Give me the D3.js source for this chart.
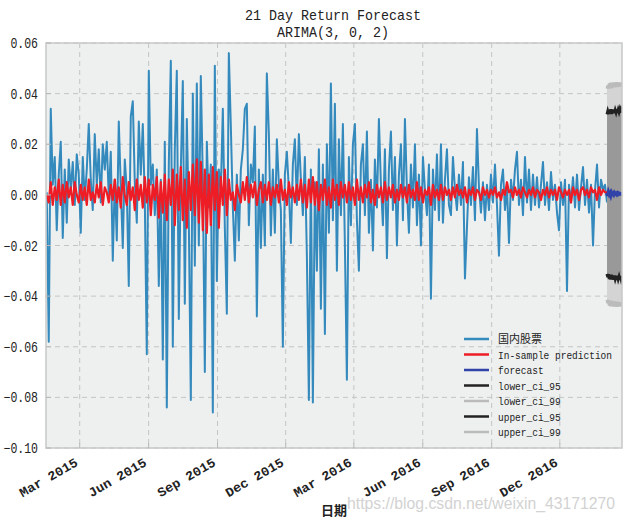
<!DOCTYPE html>
<html><head><meta charset="utf-8">
<script src="https://cdn.jsdelivr.net/npm/d3@7"></script>
<style>body{margin:0;background:#fff}svg{display:block}</style>
</head><body><svg id="c" width="626" height="523"></svg>
<script>
// ---------------- data ----------------
const titleLines = ["21 Day Return Forecast", "ARIMA(3, 0, 2)"];
const xLabel = "日期";
const yTicks = [0.06, 0.04, 0.02, 0.00, -0.02, -0.04, -0.06, -0.08, -0.10];
const tickLabels = ["Mar 2015","Jun 2015","Sep 2015","Dec 2015","Mar 2016","Jun 2016","Sep 2016","Dec 2016"];
const tickDates = ["2015-03-01","2015-06-01","2015-09-01","2015-12-01","2016-03-01","2016-06-01","2016-09-01","2016-12-01"];
const dataStart = "2015-01-16", dataEnd = "2017-02-02";
const forecastStart = "2017-02-02";
const legendLabels = ["国内股票","In-sample prediction","forecast","lower_ci_95","lower_ci_99","upper_ci_95","upper_ci_99"];

const actual = [
0.001,-0.058,0.034,0.004,0.015,-0.014,0.008,0.021,-0.017,0.010,
-0.011,0.014,0.002,0.013,-0.004,0.016,0.008,-0.015,0.015,-0.002,
0.010,0.028,0.006,-0.006,0.024,0.004,0.018,-0.003,0.020,0.010,
0.021,-0.001,0.017,-0.026,0.006,-0.018,0.029,0.003,-0.021,0.014,
0.002,-0.036,0.031,0.037,0.005,-0.011,0.029,0.008,0.028,-0.002,
-0.063,0.049,0.004,0.012,-0.008,0.010,-0.036,0.006,-0.065,0.021,
-0.084,0.012,0.053,-0.060,0.018,0.049,-0.049,0.010,0.045,-0.043,
0.030,-0.010,-0.081,0.040,-0.028,0.044,-0.020,0.047,0.006,-0.070,
0.021,-0.005,0.012,-0.086,0.051,-0.034,0.010,0.002,0.034,-0.013,
-0.047,0.056,0.027,-0.005,-0.026,0.008,-0.018,0.010,0.018,0.034,
0.036,-0.012,0.012,0.005,0.027,-0.048,0.010,-0.021,0.008,-0.020,
0.048,0.024,-0.016,0.010,-0.015,0.022,0.004,-0.006,-0.060,0.008,
0.017,0.002,-0.019,0.012,0.022,-0.004,0.024,0.006,-0.008,0.015,
-0.024,-0.081,0.010,-0.082,0.005,-0.030,0.018,-0.045,0.012,-0.055,
0.020,-0.015,0.044,-0.010,0.036,-0.030,0.022,-0.008,0.028,-0.020,
-0.073,0.015,-0.012,0.020,0.028,-0.010,-0.030,0.012,0.020,-0.008,
0.025,-0.015,0.006,-0.022,0.014,-0.005,0.030,0.004,-0.012,0.018,
-0.025,0.010,0.025,-0.006,0.015,-0.020,0.008,0.020,-0.010,0.030,
0.002,-0.015,0.012,-0.005,0.020,-0.012,0.008,-0.020,0.015,0.002,
-0.008,0.012,-0.041,0.010,-0.006,0.016,-0.010,0.020,-0.011,0.006,
0.018,-0.004,-0.008,0.015,0.002,-0.006,0.008,-0.004,0.013,-0.033,
-0.013,0.007,-0.004,0.011,-0.010,0.026,0.003,-0.007,0.005,-0.010,
0.004,-0.006,0.008,-0.003,0.012,-0.004,-0.024,0.004,0.010,-0.006,
0.003,-0.019,0.006,-0.002,0.010,0.017,-0.004,0.006,-0.008,0.015,
-0.003,0.010,-0.006,0.008,-0.004,0.007,-0.005,0.004,0.013,-0.004,
0.005,-0.006,0.009,-0.002,0.004,-0.007,-0.014,0.005,-0.004,0.006,
-0.038,0.004,-0.003,0.007,-0.005,0.008,-0.006,0.003,0.011,-0.004,
0.006,-0.007,0.004,-0.020,0.002,0.012,-0.005,0.006,0.002,0.004,
-0.003];

const insample = [
0.000,-0.003,0.005,-0.004,0.003,-0.002,0.006,-0.004,0.004,-0.003,
0.005,-0.001,0.003,-0.004,0.005,0.000,-0.003,0.004,-0.002,0.003,
-0.004,0.006,-0.002,0.001,-0.003,0.004,-0.001,0.005,-0.004,0.003,
0.001,-0.003,0.004,-0.002,0.006,-0.003,0.003,-0.005,0.007,0.000,
-0.004,0.005,-0.002,0.003,-0.006,0.006,-0.002,0.004,-0.005,0.007,
-0.003,0.006,-0.008,0.004,-0.002,0.007,-0.009,0.005,-0.007,0.008,
-0.010,0.006,-0.004,0.010,-0.012,0.008,-0.006,0.011,-0.010,0.006,
-0.013,0.009,-0.006,0.012,-0.008,0.014,-0.011,0.013,-0.014,0.010,
-0.015,0.008,-0.012,0.011,-0.006,0.009,-0.013,0.007,-0.004,0.010,
-0.008,0.006,-0.002,0.001,-0.006,0.004,0.000,-0.003,0.005,-0.002,
0.007,-0.003,0.004,-0.001,0.005,-0.004,0.002,0.005,-0.003,0.004,
-0.002,0.005,-0.004,0.003,-0.001,0.004,-0.003,0.006,-0.002,0.002,
-0.004,0.005,-0.001,0.003,-0.003,0.004,-0.002,0.006,-0.003,0.004,
-0.005,0.006,-0.003,0.007,-0.004,0.005,-0.006,0.004,-0.002,0.006,
-0.004,0.003,-0.005,0.006,-0.002,0.004,-0.004,0.005,-0.001,0.004,
-0.003,0.005,-0.002,0.003,-0.004,0.006,-0.002,0.003,-0.003,0.004,
-0.001,0.005,-0.003,0.002,-0.004,0.004,-0.001,0.003,-0.003,0.005,
-0.002,0.003,-0.001,0.004,-0.003,0.002,-0.002,0.004,-0.001,0.003,
-0.003,0.004,-0.001,0.002,-0.002,0.005,-0.002,0.003,-0.003,0.002,
0.000,0.003,-0.004,0.004,-0.001,0.002,-0.002,0.004,-0.002,0.003,
0.000,0.002,-0.002,0.003,-0.001,0.004,0.000,0.002,-0.001,0.003,
-0.003,0.002,0.000,0.003,-0.002,0.002,0.001,-0.002,0.003,0.000,
0.002,-0.001,0.002,0.000,0.003,-0.001,0.001,-0.002,0.002,0.000,
0.005,0.001,0.002,-0.001,0.003,0.000,0.002,-0.001,0.003,0.001,
-0.001,0.002,0.000,0.003,-0.001,0.002,0.001,-0.002,0.002,0.000,
0.003,-0.001,0.002,0.000,0.002,-0.002,0.003,0.001,-0.001,0.002,
0.000,0.002,-0.003,0.003,0.000,0.002,-0.002,0.002,0.003,0.000,
0.002,-0.001,0.003,0.001,0.002,-0.002,0.003,0.000,0.002,0.001,
0.001];

const forecast = [0.0008,-0.0004,0.0010,0.0002,0.0007,-0.0002,0.0009,0.0003,0.0006,0.0001,0.0008,0.0004,0.0006,0.0002,0.0007,0.0003,0.0006,0.0004,0.0005,0.0003,0.0005];
const upper95 = [0.0318,0.0330,0.0320,0.0335,0.0322,0.0338,0.0320,0.0336,0.0324,0.0337,0.0323,0.0335,0.0326,0.0338,0.0324,0.0336,0.0327,0.0337,0.0325,0.0336,0.0328];
const lower95 = [-0.0312,-0.0325,-0.0314,-0.0332,-0.0318,-0.0334,-0.0316,-0.0333,-0.0320,-0.0335,-0.0319,-0.0332,-0.0322,-0.0336,-0.0320,-0.0333,-0.0323,-0.0335,-0.0321,-0.0334,-0.0324];
const upper99 = [0.0420,0.0432,0.0420,0.0440,0.0424,0.0443,0.0421,0.0441,0.0427,0.0444,0.0425,0.0440,0.0429,0.0445,0.0426,0.0442,0.0430,0.0444,0.0428,0.0443,0.0431];
const lower99 = [-0.0415,-0.0428,-0.0416,-0.0437,-0.0420,-0.0440,-0.0418,-0.0438,-0.0423,-0.0441,-0.0421,-0.0437,-0.0425,-0.0442,-0.0422,-0.0439,-0.0426,-0.0441,-0.0424,-0.0440,-0.0427];

// ---------------- chart ----------------
const W = 626, H = 523, m = {l:46, r:4, t:43, b:75};
const MONO = '"Liberation Mono","Noto Sans CJK SC",monospace';
const CJK = '"Noto Sans CJK SC",sans-serif';
const parse = d3.timeParse("%Y-%m-%d");
const svg = d3.select("#c");

const x = d3.scaleTime().domain([parse("2015-01-15"), parse("2017-02-22")]).range([m.l, W - m.r]);
const y = d3.scaleLinear().domain([-0.10, 0.06]).range([H - m.b, m.t]);

const t0 = parse(dataStart), t1 = parse(dataEnd);
const dates = actual.map((_, i) => new Date(+t0 + (t1 - t0) * i / (actual.length - 1)));
const fc0 = parse(forecastStart);
const fDates = forecast.map((_, i) => d3.timeDay.offset(fc0, i));
const tDates = tickDates.map(parse);

function fit(sel, per) { sel.attr("textLength", function(){ return this.textContent.length * per; }).attr("lengthAdjust","spacingAndGlyphs"); }

// background
svg.append("rect").attr("x", m.l).attr("y", m.t).attr("width", W - m.l - m.r).attr("height", H - m.t - m.b).attr("fill", "#eef0f0");

// grid
const grid = svg.append("g").attr("stroke", "#c4c4c4").attr("stroke-width", 1).attr("stroke-dasharray", "5,4");
grid.selectAll(".gy").data(yTicks).join("line")
  .attr("x1", m.l).attr("x2", W - m.r).attr("y1", d => y(d)).attr("y2", d => y(d));
grid.selectAll(".gx").data(tDates).join("line")
  .attr("y1", m.t).attr("y2", H - m.b).attr("x1", d => x(d)).attr("x2", d => x(d));

// clip
svg.append("clipPath").attr("id", "clip").append("rect").attr("x", m.l).attr("y", m.t).attr("width", W - m.l - m.r).attr("height", H - m.t - m.b);
const plot = svg.append("g").attr("clip-path", "url(#clip)");

const line = (xs, ys) => d3.line().x((d, i) => x(xs[i])).y(d => y(d))(ys);

plot.append("path").attr("d", line(dates, actual)).attr("fill", "none").attr("stroke", "#348ABD").attr("stroke-width", 2).attr("stroke-linejoin", "round");
plot.append("path").attr("d", line(dates, insample)).attr("fill", "none").attr("stroke", "#ee1c24").attr("stroke-width", 2.2).attr("stroke-linejoin", "round");

// forecast bands
const area = (lo, hi) => d3.area().x((d, i) => x(fDates[i])).y0((d, i) => y(lo[i])).y1((d, i) => y(hi[i]))(forecast);
plot.append("path").attr("d", area(lower99, upper99)).attr("fill", "#d4d4d4");
plot.append("path").attr("d", area(lower95, upper95)).attr("fill", "#999999");
plot.append("path").attr("d", line(fDates, forecast)).attr("fill", "none").attr("stroke", "#3142a8").attr("stroke-width", 3.5);
[[lower95, "#222"], [lower99, "#bbbbbb"], [upper95, "#222"], [upper99, "#bbbbbb"]].forEach(([arr, c]) => {
  plot.append("path").attr("d", line(fDates, arr)).attr("fill", "none").attr("stroke", c).attr("stroke-width", 3);
});

// border
svg.append("rect").attr("x", m.l).attr("y", m.t).attr("width", W - m.l - m.r).attr("height", H - m.t - m.b)
  .attr("fill", "none").attr("stroke", "#c8c8c8").attr("stroke-width", 1.5);

// ticks
const tk = svg.append("g").attr("stroke", "#b8b8b8").attr("stroke-width", 1);
tk.selectAll(".ty").data(yTicks).join("line").attr("x1", m.l).attr("x2", m.l + 5).attr("y1", d => y(d)).attr("y2", d => y(d));
tk.selectAll(".tx").data(tDates).join("line").attr("y1", H - m.b).attr("y2", H - m.b - 5).attr("x1", d => x(d)).attr("x2", d => x(d));

// y tick labels
const fmt = d3.format(".2f");
svg.append("g").selectAll("text").data(yTicks).join("text")
  .attr("x", 38).attr("y", d => y(d) + 5).attr("text-anchor", "end")
  .attr("font-family", MONO).attr("font-size", 14).attr("fill", "#222")
  .text(d => fmt(d)).call(fit, 6.9);

// x tick labels
svg.append("g").selectAll("text").data(tDates).join("text")
  .attr("transform", d => `translate(${x(d) - 1},${H - m.b + 17}) rotate(-30)`)
  .attr("text-anchor", "end").attr("font-family", MONO).attr("font-weight", "bold")
  .attr("font-size", 13).attr("fill", "#222")
  .text((d, i) => tickLabels[i]).call(fit, 8.1);

// axis label
svg.append("text").attr("x", (m.l + W - m.r) / 2).attr("y", 515).attr("text-anchor", "middle")
  .attr("font-family", CJK).attr("font-weight", "bold").attr("font-size", 13).attr("fill", "#222").text(xLabel);

// title
svg.append("g").selectAll("text").data(titleLines).join("text")
  .attr("x", 333).attr("y", (d, i) => 20 + i * 17).attr("text-anchor", "middle")
  .attr("font-family", MONO).attr("font-size", 15).attr("fill", "#222")
  .text(d => d).call(fit, 8.0);

// legend
const legColors = ["#348ABD", "#ee1c24", "#3142a8", "#222", "#bbbbbb", "#222", "#bbbbbb"];
const lg = svg.append("g").selectAll("g").data(legendLabels).join("g")
  .attr("transform", (d, i) => `translate(464,${339 + i * 15.5})`);
lg.append("line").attr("x1", 0).attr("x2", 25).attr("stroke", (d, i) => legColors[i]).attr("stroke-width", 2.5);
lg.append("text").attr("x", 34).attr("y", 4).attr("font-size", 10).attr("fill", "#222")
  .attr("font-family", d => /[\u4e00-\u9fff]/.test(d) ? CJK : MONO)
  .style("font-size", d => /[\u4e00-\u9fff]/.test(d) ? "11px" : "10px")
  .text(d => d)
  .each(function(d){ if (!/[\u4e00-\u9fff]/.test(d)) d3.select(this).attr("textLength", d.length * 5.7).attr("lengthAdjust","spacingAndGlyphs"); });

// watermark
svg.append("text").attr("x", 347).attr("y", 509).attr("font-family", '"Liberation Sans",Arial,sans-serif')
  .attr("font-size", 16).attr("fill", "#d2d2d2").attr("textLength", 268).attr("lengthAdjust", "spacingAndGlyphs")
  .text("https://blog.csdn.net/weixin_43171270");
</script></body></html>
